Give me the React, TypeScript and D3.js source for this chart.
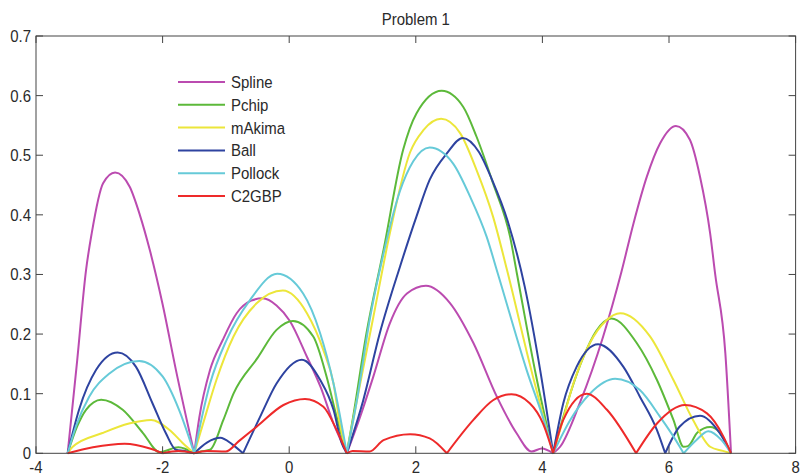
import React from 'react';
import * as d3 from 'd3';

// error curves, [x, y]
const splineData = [
  [-3.5, 0], [-3.35, 0.155], [-3.21, 0.307], [-3.12, 0.369], [-2.94, 0.453], [-2.75, 0.471], [-2.52, 0.447],
  [-2.36, 0.4], [-2.2, 0.34], [-2.0, 0.25], [-1.79, 0.14], [-1.5, 0],
  [-1.42, 0.06], [-1.25, 0.14], [-1.05, 0.19], [-0.83, 0.235], [-0.6, 0.256], [-0.42, 0.26], [-0.2, 0.248],
  [0.01, 0.222], [0.28, 0.162], [0.5, 0.11], [0.7, 0.05], [0.91, 0],
  [1.12, 0.061], [1.33, 0.129], [1.59, 0.218], [1.86, 0.268], [2.16, 0.281], [2.54, 0.252], [2.91, 0.185],
  [3.28, 0.095], [3.59, 0.034], [3.83, 0.003], [3.99, 0.008], [4.17, 0],
  [4.28, 0.011], [4.59, 0.084], [4.96, 0.196], [5.25, 0.305], [5.44, 0.386], [5.65, 0.464], [5.86, 0.52],
  [6.11, 0.549], [6.33, 0.526], [6.49, 0.464], [6.65, 0.369], [6.73, 0.3], [6.89, 0.168], [6.98, 0],
];

const pchipData = [
  [-3.5, 0], [-3.35, 0.045], [-3.21, 0.073], [-2.97, 0.09], [-2.63, 0.073], [-2.31, 0.034], [-2.05, 0.002],
  [-1.75, 0.01], [-1.5, 0],
  [-1.4, 0.003], [-1.25, 0.006], [-1.04, 0.056], [-0.88, 0.1], [-0.5, 0.16], [-0.2, 0.207], [0.06, 0.222],
  [0.38, 0.196], [0.59, 0.129], [0.75, 0.061], [0.91, 0],
  [1.01, 0.061], [1.22, 0.201], [1.49, 0.341], [1.8, 0.509], [2.01, 0.57], [2.41, 0.608], [2.75, 0.581],
  [2.96, 0.531], [3.22, 0.453], [3.49, 0.363], [3.6, 0.3], [3.9, 0.13], [4.17, 0],
  [4.3, 0.05], [4.44, 0.1], [4.65, 0.162], [4.85, 0.205], [5.09, 0.226], [5.49, 0.185], [5.81, 0.123],
  [6.07, 0.056], [6.23, 0.011], [6.3, 0.012], [6.45, 0.035], [6.65, 0.044], [6.8, 0.035], [6.98, 0],
];

const makimaData = [
  [-3.5, 0], [-3.42, 0.011], [-2.95, 0.034], [-2.53, 0.05], [-2.18, 0.056], [-1.89, 0.039], [-1.68, 0.017], [-1.5, 0],
  [-1.36, 0.05], [-1.15, 0.123], [-0.88, 0.196], [-0.51, 0.252], [-0.1, 0.273], [0.28, 0.235], [0.54, 0.173],
  [0.7, 0.117], [0.8, 0.05], [0.91, 0],
  [1.07, 0.089], [1.33, 0.229], [1.59, 0.369], [1.91, 0.505], [2.12, 0.542], [2.4, 0.561], [2.7, 0.537],
  [2.96, 0.475], [3.22, 0.397], [3.44, 0.308], [3.8, 0.15], [4.17, 0],
  [4.28, 0.039], [4.49, 0.117], [4.75, 0.185], [5.0, 0.222], [5.23, 0.235], [5.7, 0.196], [6.07, 0.123],
  [6.38, 0.056], [6.65, 0.011], [6.85, 0.004], [6.98, 0],
];

const ballData = [
  [-3.5, 0], [-3.32, 0.073], [-3.05, 0.14], [-2.71, 0.169], [-2.42, 0.145], [-2.16, 0.084], [-1.95, 0.034],
  [-1.79, 0.006], [-1.65, 0.004], [-1.5, 0],
  [-1.3, 0.018], [-1.09, 0.026], [-0.9, 0.015], [-0.73, 0], [-0.46, 0.061], [-0.2, 0.117], [0.2, 0.157],
  [0.49, 0.123], [0.7, 0.073], [0.83, 0.017], [0.91, 0],
  [1.17, 0.089], [1.43, 0.201], [1.75, 0.313], [2.01, 0.397], [2.22, 0.459], [2.49, 0.503], [2.74, 0.529],
  [3.0, 0.505], [3.2, 0.46], [3.45, 0.39], [3.72, 0.28], [3.98, 0.13], [4.17, 0],
  [4.33, 0.084], [4.54, 0.145], [4.88, 0.183], [5.28, 0.145], [5.54, 0.095], [5.81, 0.039], [5.94, 0],
  [6.17, 0.045], [6.49, 0.063], [6.8, 0.034], [6.98, 0],
];

const pollockData = [
  [-3.5, 0], [-3.37, 0.045], [-3.16, 0.095], [-2.84, 0.134], [-2.37, 0.155], [-2.0, 0.129], [-1.74, 0.073], [-1.5, 0],
  [-1.25, 0.117], [-0.99, 0.19], [-0.62, 0.257], [-0.19, 0.301], [0.22, 0.268], [0.49, 0.201], [0.7, 0.117], [0.91, 0],
  [1.07, 0.089], [1.28, 0.229], [1.49, 0.335], [1.75, 0.44], [1.96, 0.49], [2.22, 0.513], [2.59, 0.486],
  [2.86, 0.43], [3.12, 0.363], [3.3, 0.3], [3.75, 0.14], [4.07, 0.039], [4.17, 0],
  [4.44, 0.056], [4.75, 0.1], [5.15, 0.125], [5.54, 0.106], [5.86, 0.061], [6.17, 0.011], [6.23, 0],
  [6.43, 0.022], [6.62, 0.037], [6.83, 0.022], [6.98, 0],
];

const c2gbpData = [
  [-3.5, 0], [-3.1, 0.01], [-2.6, 0.016], [-2.2, 0.008], [-2.0, 0], [-1.75, 0.004], [-1.5, 0],
  [-1.3, 0.004], [-1.0, 0.003], [-0.8, 0.02], [-0.51, 0.045], [-0.09, 0.081], [0.25, 0.091], [0.54, 0.078],
  [0.75, 0.039], [0.91, 0],
  [1.0, 0.004], [1.27, 0.003], [1.49, 0.022], [1.91, 0.032], [2.22, 0.025], [2.49, 0],
  [2.91, 0.056], [3.22, 0.089], [3.51, 0.099], [3.8, 0.084], [4.01, 0.05], [4.17, 0],
  [4.33, 0.056], [4.7, 0.1], [5.02, 0.073], [5.48, 0],
  [5.81, 0.05], [6.25, 0.081], [6.6, 0.067], [6.86, 0.028], [6.98, 0],
];

const seriesNames = ['Spline', 'Pchip', 'mAkima', 'Ball', 'Pollock', 'C2GBP'];
const seriesColors = ['#bb4bb0', '#5cb93a', '#ece63a', '#2e43a0', '#66cad8', '#ee2a2a'];
const seriesData = [splineData, pchipData, makimaData, ballData, pollockData, c2gbpData];

const xTicks = [-4, -2, 0, 2, 4, 6, 8];
const yTicks = [0, 0.1, 0.2, 0.3, 0.4, 0.5, 0.6, 0.7];

// break a curve at its zeros so the cusps stay sharp
const splitAtZeros = (pts) => {
  const segs = [];
  let cur = [];
  pts.forEach((p) => {
    cur.push(p);
    if (p[1] === 0 && cur.length > 1) {
      segs.push(cur);
      cur = [p];
    }
  });
  if (cur.length > 1) segs.push(cur);
  return segs;
};

// the original text is a bit taller than it is wide
const Label = ({ x, y, anchor = 'start', children }) => (
  <text
    transform={`translate(${x},${y}) scale(0.88,1)`}
    textAnchor={anchor}
    fontFamily={'"Liberation Sans", Arial, sans-serif'}
    fontSize={17}
    fill="#2a2a2a"
  >
    {children}
  </text>
);

const App = () => {
  const width = 800, height = 475;
  const margin = { top: 36, right: 4.4, bottom: 21.7, left: 36 };
  const x = d3.scaleLinear().domain([-4, 8]).range([margin.left, width - margin.right]);
  const y = d3.scaleLinear().domain([0, 0.7]).range([height - margin.bottom, margin.top]);

  const line = d3.line()
    .x((d) => x(d[0]))
    .y((d) => y(d[1]))
    .curve(d3.curveMonotoneX);

  const tickLen = 7;
  const axisColor = '#444';

  return (
    <svg width={width} height={height} style={{ position: 'absolute', left: 0, top: 0, background: '#fff' }}>
      <Label x={(x(-4) + x(8)) / 2} y={25} anchor="middle">Problem 1</Label>

      {seriesData.map((data, i) => (
        <path
          key={seriesNames[i]}
          d={splitAtZeros(data).map((s) => line(s)).join('')}
          fill="none"
          stroke={seriesColors[i]}
          strokeWidth={2}
          strokeLinejoin="round"
        />
      ))}

      <rect x={x(-4)} y={y(0.7)} width={x(8) - x(-4)} height={y(0) - y(0.7)} fill="none" stroke={axisColor} strokeWidth={1} />

      {xTicks.map((t) => (
        <g key={'x' + t}>
          <line x1={x(t)} x2={x(t)} y1={y(0)} y2={y(0) - tickLen} stroke={axisColor} />
          <line x1={x(t)} x2={x(t)} y1={y(0.7)} y2={y(0.7) + tickLen} stroke={axisColor} />
          <Label x={x(t)} y={473} anchor="middle">{t}</Label>
        </g>
      ))}

      {yTicks.map((t) => (
        <g key={'y' + t}>
          <line x1={x(-4)} x2={x(-4) + tickLen} y1={y(t)} y2={y(t)} stroke={axisColor} />
          <line x1={x(8)} x2={x(8) - tickLen} y1={y(t)} y2={y(t)} stroke={axisColor} />
          <Label x={31} y={y(t) + 6} anchor="end">{d3.format('.1~f')(t)}</Label>
        </g>
      ))}

      {seriesNames.map((name, i) => (
        <g key={'leg' + name} transform={`translate(178, ${82 + i * 22.8})`}>
          <line x1={0} x2={47} y1={0} y2={0} stroke={seriesColors[i]} strokeWidth={2} />
          <Label x={53} y={6}>{name}</Label>
        </g>
      ))}
    </svg>
  );
};

export default App;
